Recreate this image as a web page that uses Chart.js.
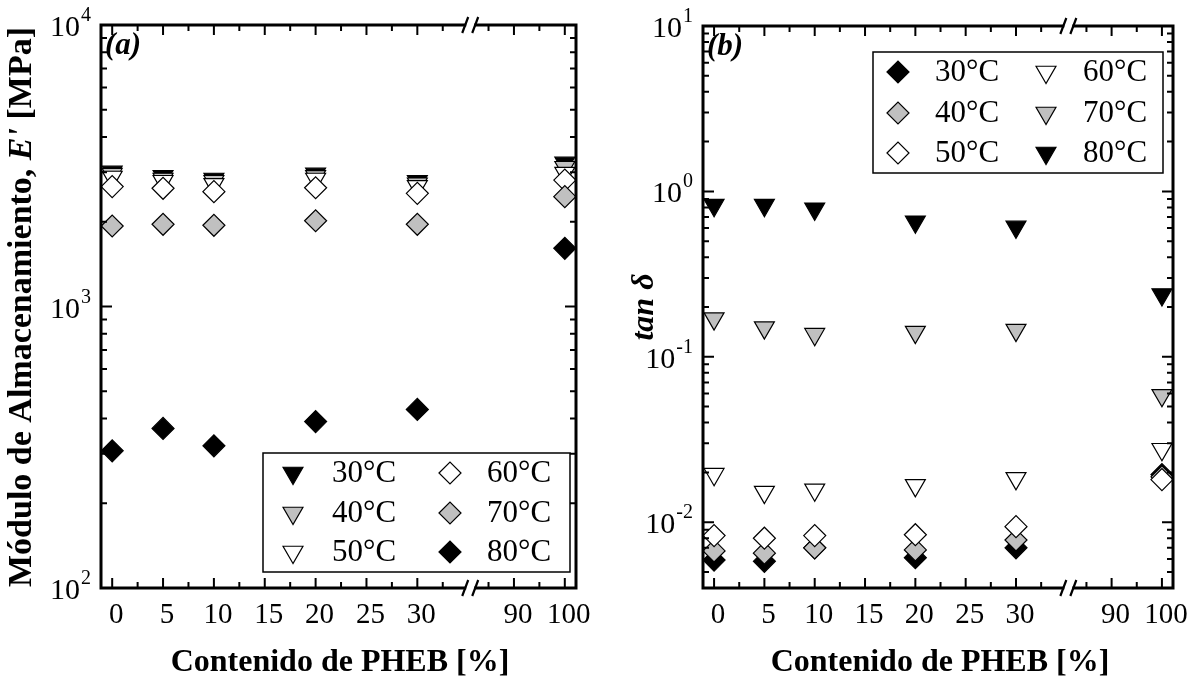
<!DOCTYPE html>
<html><head><meta charset="utf-8">
<script src="https://cdn.jsdelivr.net/npm/chart.js@4.4.0/dist/chart.umd.min.js"></script>
<style>
html,body{margin:0;padding:0;background:#fff;}
#wrap{position:relative;width:1200px;height:681px;overflow:hidden;}
canvas{position:absolute;top:0;}
#ca{left:0;} #cb{left:600px;}
</style></head>
<body><div id="wrap"><canvas id="ca" width="600" height="681"></canvas><canvas id="cb" width="600" height="681"></canvas></div>
<script>
// ---- data ----
const pheb = [0, 5, 10, 20, 30, 100];
const temps = ['30°C', '40°C', '50°C', '60°C', '70°C', '80°C'];
// storage modulus E' [MPa]
const e30 = [3006, 2901, 2838, 2958, 2786, 3236];
const e40 = [2951, 2838, 2786, 2901, 2729, 3124];
const e50 = [2884, 2786, 2716, 2838, 2673, 2979];
const e60 = [2666, 2630, 2558, 2642, 2524, 2813];
const e70 = [1932, 1959, 1943, 2017, 1959, 2455];
const e80 = [307, 369, 320, 390, 431, 1610];
// tan delta
const t30 = [0.0059, 0.0058, 0.0070, 0.0061, 0.0070, 0.0194];
const t40 = [0.0067, 0.0065, 0.0070, 0.0068, 0.0078, 0.0188];
const t50 = [0.0083, 0.0080, 0.0083, 0.0084, 0.0094, 0.0181];
const t60 = [0.0195, 0.0152, 0.0157, 0.0167, 0.0184, 0.0276];
const t70 = [0.170, 0.150, 0.137, 0.141, 0.145, 0.0585];
const t80 = [0.825, 0.825, 0.784, 0.655, 0.610, 0.238];
// ticks
const xTickValues = [0, 5, 10, 15, 20, 25, 30, 90, 100];
const xTickLabels = ['0', '5', '10', '15', '20', '25', '30', '90', '100'];
const xMinorValues = [2.5, 7.5, 12.5, 17.5, 22.5, 27.5, 32.5, 85, 95];
const yTicksA = [100, 1000, 10000];
const yTicksALabels = [['10', '2'], ['10', '3'], ['10', '4']];
const yTicksB = [0.01, 0.1, 1, 10];
const yTicksBLabels = [['10', '-2'], ['10', '-1'], ['10', '0'], ['10', '1']];

// broken x axis: 0..35 linear, after the break compressed by half
const BREAK_AT = 35.2;
function brk(v) { return v <= 35 ? v : 0.5 * v - 5.5; }

const BLACK = '#000000', GRAY = '#c0c0c0', WHITE = '#ffffff';
const SERIF = '"Liberation Serif", "Times New Roman", serif';

function drawMarker(ctx, style, x, y, r, fill) {
  ctx.beginPath();
  if (style === 'tri') {
    ctx.moveTo(x, y + r);
    ctx.lineTo(x - 0.866 * r, y - 0.5 * r);
    ctx.lineTo(x + 0.866 * r, y - 0.5 * r);
  } else {
    ctx.moveTo(x - r, y); ctx.lineTo(x, y - r); ctx.lineTo(x + r, y); ctx.lineTo(x, y + r);
  }
  ctx.closePath();
  ctx.fillStyle = fill; ctx.fill();
  ctx.lineWidth = 1.2; ctx.strokeStyle = '#000'; ctx.stroke();
}

function drawRich(ctx, parts, cx, cy, rot) {
  ctx.save();
  ctx.translate(cx, cy);
  if (rot) ctx.rotate(rot);
  let total = 0;
  parts.forEach(p => { ctx.font = p.f; p.w = ctx.measureText(p.t).width; total += p.w; });
  let x = -total / 2;
  ctx.textBaseline = 'middle'; ctx.textAlign = 'left'; ctx.fillStyle = '#000';
  parts.forEach(p => { ctx.font = p.f; ctx.fillText(p.t, x, 0); x += p.w; });
  ctx.restore();
}

const framePlugin = {
  id: 'frame',
  afterDraw(chart) {
    const o = chart.options.plugins.frame;
    const { ctx, chartArea: a } = chart;
    const xs = chart.scales.x, ys = chart.scales.y;
    ctx.save();
    ctx.strokeStyle = '#000';
    ctx.lineWidth = 2;
    // y ticks (log, majors + minors), both sides, inward
    const d0 = Math.floor(Math.log10(ys.min)), d1 = Math.ceil(Math.log10(ys.max));
    for (let d = d0; d <= d1; d++) {
      for (let m = 1; m <= 9; m++) {
        const v = m * Math.pow(10, d);
        if (v < ys.min * 0.999 || v > ys.max * 1.001) continue;
        const py = ys.getPixelForValue(v);
        const len = m === 1 ? 11 : 6;
        ctx.beginPath();
        ctx.moveTo(a.left, py); ctx.lineTo(a.left + len, py);
        ctx.moveTo(a.right, py); ctx.lineTo(a.right - len, py);
        ctx.stroke();
      }
    }
    // x ticks
    const xt = (vals, len) => vals.forEach(v => {
      const px = xs.getPixelForValue(brk(v));
      ctx.beginPath();
      ctx.moveTo(px, a.bottom); ctx.lineTo(px, a.bottom - len);
      ctx.moveTo(px, a.top); ctx.lineTo(px, a.top + len);
      ctx.stroke();
    });
    xt(xTickValues, 10); xt(xMinorValues, 6);
    // frame
    ctx.lineWidth = 3;
    ctx.strokeRect(a.left, a.top, a.right - a.left, a.bottom - a.top);
    // axis break marks
    const bx = xs.getPixelForValue(BREAK_AT);
    [a.top, a.bottom].forEach(by => {
      ctx.fillStyle = '#fff';
      ctx.fillRect(bx - 4, by - 3, 8, 6);
      ctx.lineWidth = 2.2; ctx.strokeStyle = '#000';
      ctx.beginPath();
      ctx.moveTo(bx - 8, by + 8); ctx.lineTo(bx - 2, by - 8);
      ctx.moveTo(bx + 2, by + 8); ctx.lineTo(bx + 8, by - 8);
      ctx.stroke();
    });
    // x tick labels
    ctx.fillStyle = '#000';
    ctx.font = '29px ' + SERIF; ctx.textAlign = 'center'; ctx.textBaseline = 'alphabetic';
    xTickValues.forEach((v, i) => {
      ctx.fillText(xTickLabels[i], xs.getPixelForValue(brk(v)) + 4, a.bottom + 35);
    });
    // y tick labels with superscript
    o.yTicks.forEach((v, i) => {
      const [b, e] = o.yLabels[i];
      const py = ys.getPixelForValue(v);
      ctx.font = '30px ' + SERIF; const wb = ctx.measureText(b).width;
      ctx.font = '20px ' + SERIF; const we = ctx.measureText(e).width;
      const x0 = a.left - 10 - we - wb - 1;
      ctx.textAlign = 'left';
      ctx.font = '30px ' + SERIF; ctx.fillText(b, x0, py + 11);
      ctx.font = '20px ' + SERIF; ctx.fillText(e, x0 + wb + 1, py - 4);
    });
    // axis titles
    drawRich(ctx, [{ t: 'Contenido de PHEB [%]', f: 'bold 32px ' + SERIF }], o.xTitleX, 663, 0);
    drawRich(ctx, o.yTitle, o.yTitleX, 307, -Math.PI / 2);
    // panel label
    ctx.font = 'italic bold 31px ' + SERIF; ctx.textAlign = 'left'; ctx.textBaseline = 'middle';
    ctx.fillText(o.panel, a.left + 4, a.top + 21);
    // legend
    const L = o.legend;
    ctx.lineWidth = 1.5; ctx.strokeStyle = '#000';
    ctx.fillStyle = '#fff';
    ctx.fillRect(L.x0, L.y0, L.x1 - L.x0, L.y1 - L.y0);
    ctx.strokeRect(L.x0, L.y0, L.x1 - L.x0, L.y1 - L.y0);
    chart.data.datasets.forEach((ds, i) => {
      const col = Math.floor(i / 3), row = i % 3;
      const my = L.rows[row];
      drawMarker(ctx, ds.pointStyle === 'triangle' ? 'tri' : 'dia', L.mx[col], my, ds.pointStyle === 'triangle' ? 11.5 : 11, ds.backgroundColor);
      ctx.fillStyle = '#000'; ctx.font = '31px ' + SERIF; ctx.textAlign = 'left'; ctx.textBaseline = 'middle';
      ctx.fillText(ds.label, L.tx[col], my + 1);
    });
    ctx.restore();
  }
};

function series(label, vals, shape, fill, i) {
  return {
    label: label,
    data: pheb.map((p, k) => ({ x: brk(p), y: vals[k] })),
    pointStyle: shape === 'tri' ? 'triangle' : 'rectRot',
    rotation: shape === 'tri' ? 180 : 0,
    pointRadius: shape === 'tri' ? 11.5 : 11,
    backgroundColor: fill, borderColor: '#000', borderWidth: 1.2,
    showLine: false, clip: false, order: 10 - i
  };
}

function makeChart(id, datasets, pad, yMin, yMax, frame) {
  return new Chart(document.getElementById(id), {
    type: 'scatter',
    data: { datasets: datasets },
    options: {
      responsive: false, animation: false, devicePixelRatio: 1,
      layout: { padding: pad },
      scales: {
        x: { type: 'linear', display: false, min: -1.1, max: 45.6 },
        y: { type: 'logarithmic', display: false, min: yMin, max: yMax }
      },
      plugins: { legend: { display: false }, tooltip: { enabled: false }, frame: frame }
    },
    plugins: [framePlugin]
  });
}

const shapesA = ['tri', 'tri', 'tri', 'dia', 'dia', 'dia'];
const fillsA = [BLACK, GRAY, WHITE, WHITE, GRAY, BLACK];
const valsA = [e30, e40, e50, e60, e70, e80];
makeChart('ca', valsA.map((v, i) => series(temps[i], v, shapesA[i], fillsA[i], i)),
  { left: 101, right: 24, top: 25, bottom: 93 }, 100, 10000, {
    yTicks: yTicksA, yLabels: yTicksALabels, xTitleX: 340, yTitleX: 22,
    yTitle: [{ t: 'Módulo de Almacenamiento, ', f: 'bold 34px ' + SERIF }, { t: "E'", f: 'italic bold 34px ' + SERIF }, { t: ' [MPa]', f: 'bold 34px ' + SERIF }],
    panel: '(a)',
    legend: { x0: 263, y0: 453, x1: 570, y1: 572, rows: [473, 513, 552], mx: [293, 450], tx: [332, 487] }
  });

const shapesB = ['dia', 'dia', 'dia', 'tri', 'tri', 'tri'];
const fillsB = [BLACK, GRAY, WHITE, WHITE, GRAY, BLACK];
const valsB = [t30, t40, t50, t60, t70, t80];
makeChart('cb', valsB.map((v, i) => series(temps[i], v, shapesB[i], fillsB[i], i)),
  { left: 103, right: 27, top: 26, bottom: 93 }, 0.004, 10, {
    yTicks: yTicksB, yLabels: yTicksBLabels, xTitleX: 340, yTitleX: 45,
    yTitle: [{ t: 'tan δ', f: 'italic bold 32px ' + SERIF }],
    panel: '(b)',
    legend: { x0: 273, y0: 52, x1: 563, y1: 173, rows: [72, 113, 153], mx: [298, 446], tx: [335, 483] }
  });
</script>
</body></html>
